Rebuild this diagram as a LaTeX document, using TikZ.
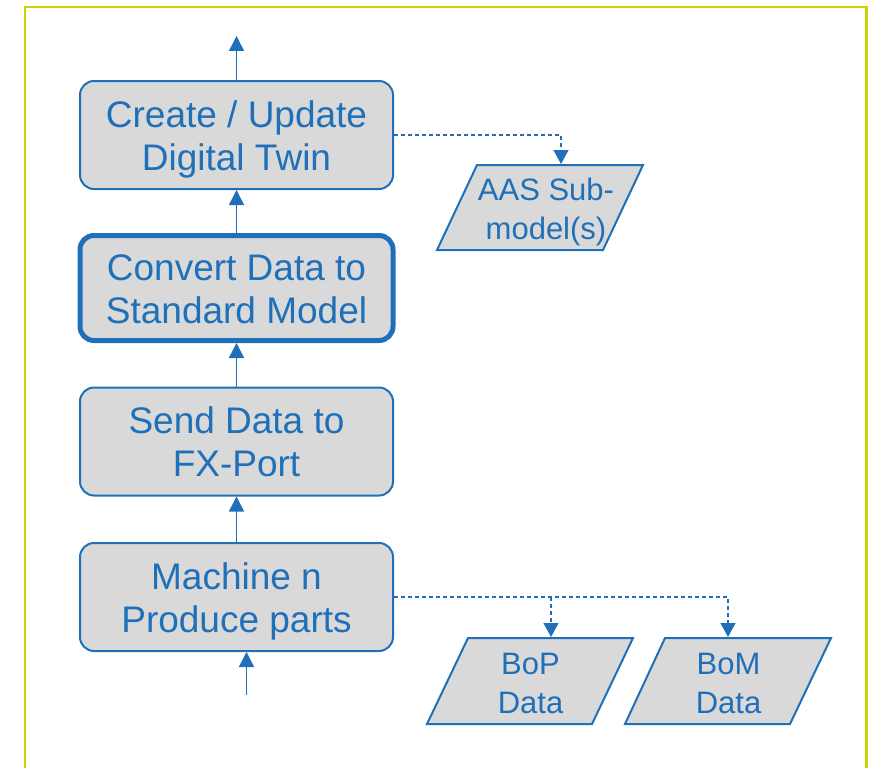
\documentclass[tikz,border=0pt]{standalone}
\usepackage{fontspec}
\setmainfont{Liberation Sans}
\usetikzlibrary{arrows.meta}

\definecolor{flowblue}{RGB}{31,112,184}
\definecolor{boxgray}{RGB}{217,217,217}
\definecolor{framegreen}{RGB}{200,214,0}

% two-line labels with fixed struts, so every label sits at the same height
\newcommand\steplines[2]{\rule{0pt}{35pt}#1\\#2\rule[-8pt]{0pt}{8pt}}
\newcommand\datalines[2]{\rule{0pt}{33pt}#1\\#2\rule[-8pt]{0pt}{8pt}}

\begin{document}
\begin{tikzpicture}[x=1pt,y=-1pt,
  procbox/.style={draw=flowblue, fill=boxgray, line width=2pt, rounded corners=14pt,
    minimum width=313pt, minimum height=108pt, inner sep=0pt, align=center,
    text=flowblue, font=\fontsize{37}{43}\selectfont},
  keybox/.style={procbox, line width=5pt, minimum height=105pt},
  flow/.style={draw=flowblue, line width=1.5pt, -{Triangle[length=15pt,width=15pt]}},
  dataflow/.style={draw=flowblue, line width=1.2pt, dash pattern=on 4pt off 3pt,
    -{Triangle[length=14pt,width=15pt]}},
  datashape/.style={draw=flowblue, fill=boxgray, line width=2pt, line join=miter},
  datatext/.style={text=flowblue, align=center, inner sep=0pt,
    font=\fontsize{31}{39}\selectfont}]

\useasboundingbox (0,0) rectangle (869,768);

% outer frame (open at the bottom)
\draw[framegreen, line width=2.5pt] (25,768) -- (25,7) -- (866.5,7) -- (866.5,768);

% process steps
\node[procbox] (twin)    at (236.5,135)   {\steplines{Create / Update}{Digital Twin}};
\node[keybox]  (convert) at (236.5,288)   {\steplines{Convert Data to}{Standard Model}};
\node[procbox] (send)    at (236.5,441.5) {\steplines{Send Data to}{FX-Port}};
\node[procbox] (machine) at (236.5,597)   {\steplines{Machine n}{Produce parts}};

% data objects
\filldraw[datashape] (477,165) -- (643,165) -- (603,250) -- (437,250) -- cycle;
\node[datatext] (aas) at (546,207.5) {\datalines{AAS Sub-}{model(s)}};
\filldraw[datashape] (468,638) -- (633,638) -- (592,724) -- (427,724) -- cycle;
\node[datatext] (bop) at (530.5,681) {\datalines{BoP}{Data}};
\filldraw[datashape] (665,638) -- (831,638) -- (790,724) -- (625,724) -- cycle;
\node[datatext] (bom) at (728.5,681) {\datalines{BoM}{Data}};

% connector ends
\coordinate (out)    at (236.5,36);
\coordinate (in)     at (246.5,695);
\coordinate (aasTop) at (561,164);
\coordinate (bopTop) at (551,637);
\coordinate (bomTop) at (728,637);

% main flow
\draw[flow] (in) -- (in |- machine.south);
\draw[flow] (machine.north) -- (send.south);
\draw[flow] (send.north) -- (convert.south);
\draw[flow] (convert.north) -- (twin.south);
\draw[flow] (twin.north) -- (out);

% data flow
\draw[dataflow] (twin.east) -- (twin.east -| aasTop) -- (aasTop);
\draw[dataflow] (machine.east) -- (machine.east -| bomTop) -- (bomTop);
\draw[dataflow] (machine.east -| bopTop) -- (bopTop);
\end{tikzpicture}
\end{document}
